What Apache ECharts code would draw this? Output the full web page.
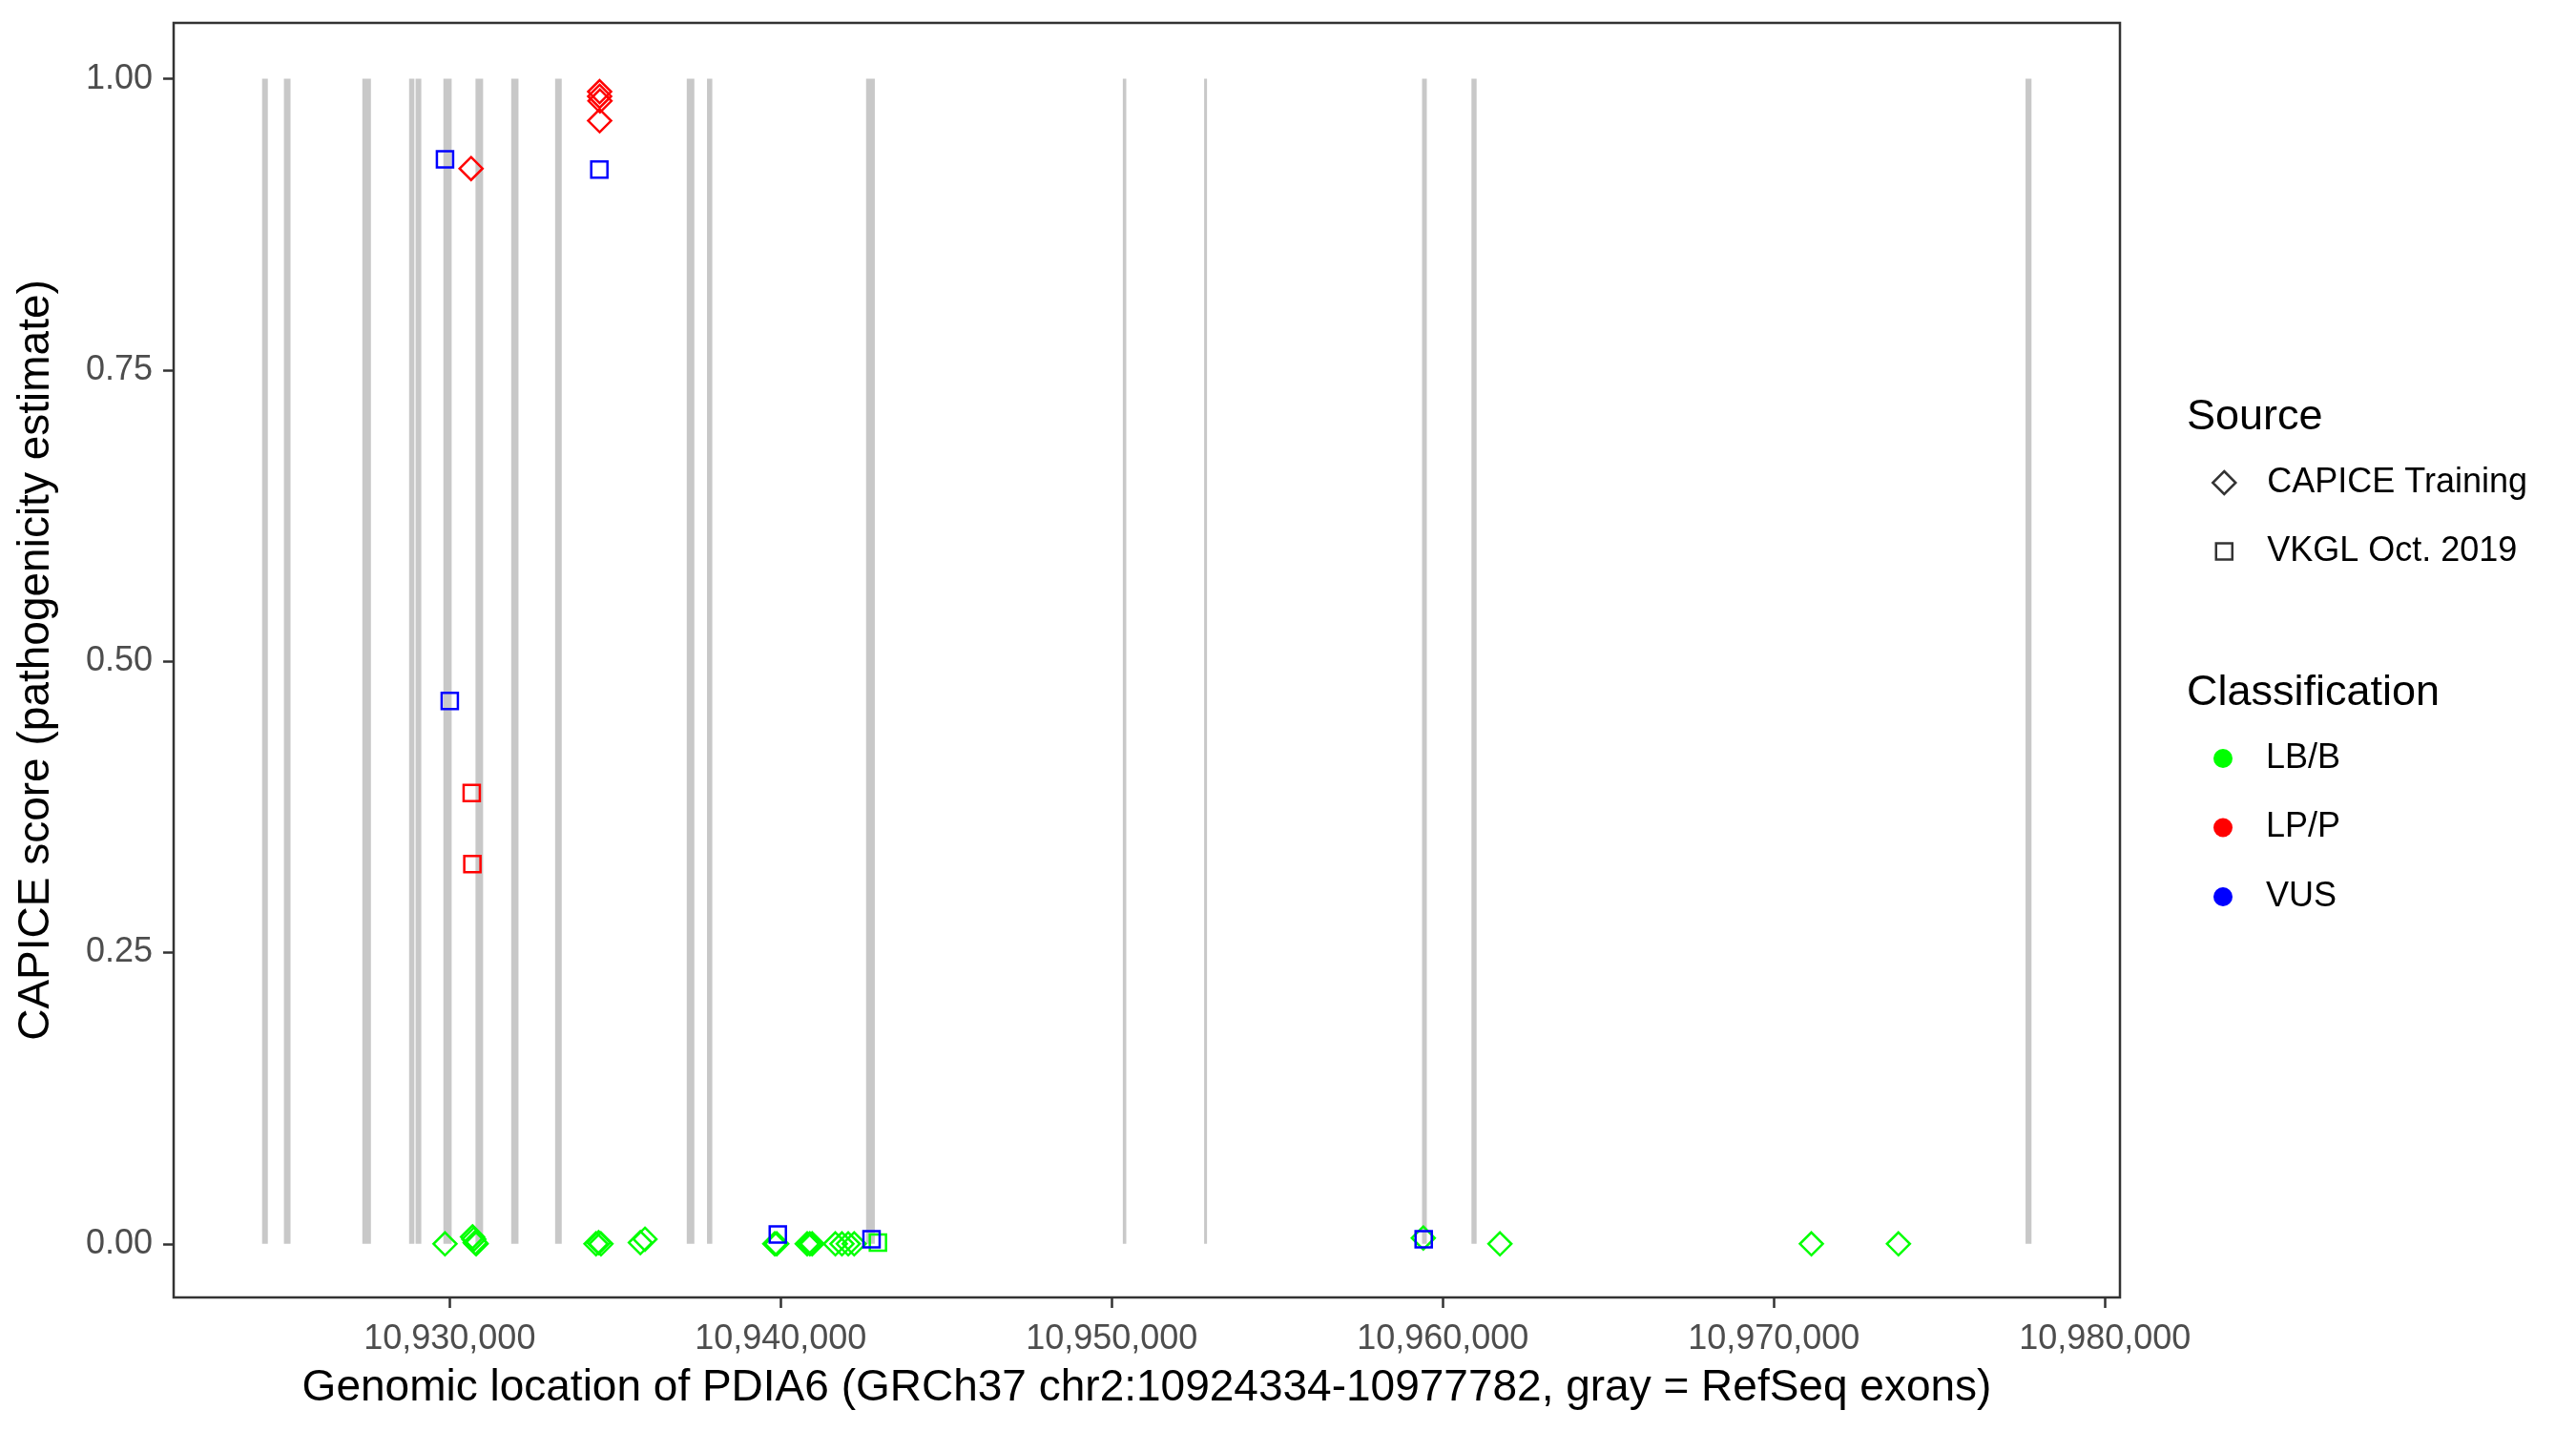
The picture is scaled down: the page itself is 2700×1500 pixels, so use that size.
<!DOCTYPE html>
<html>
<head>
<meta charset="utf-8">
<script src="https://cdn.jsdelivr.net/npm/echarts@6/dist/echarts.min.js"></script>
<style>
html, body { margin: 0; padding: 0; background: #fff; }
#main { width: 2700px; height: 1500px; }
</style>
</head>
<body>
<div id="main"></div>
<script>
// RefSeq exons of PDIA6 (start / end, bp)
var exonStart = [10924334, 10924993, 10927362, 10928774, 10928970, 10929810, 10930780, 10931859, 10933185,
    10937161, 10937773, 10942578, 10950334, 10952790, 10959373, 10960865, 10977602];
var exonEnd = [10924507, 10925193, 10927622, 10928934, 10929143, 10930060, 10931010, 10932079, 10933385,
    10937391, 10937933, 10942843, 10950438, 10952877, 10959517, 10961021, 10977782];

// variants: [position, CAPICE score]
var lbbTraining = [
    [10929859, 0.000],
    [10930690, 0.006], [10930730, 0.004], [10930770, 0.001], [10930800, 0.000],
    [10934420, 0.000], [10934500, 0.001], [10934570, 0.000],
    [10935760, 0.001], [10935900, 0.004],
    [10939820, 0.000], [10939880, 0.000],
    [10940800, 0.000], [10940880, 0.000], [10940950, 0.000],
    [10941650, 0.000], [10941850, 0.000], [10942040, 0.000], [10942220, 0.000],
    [10959410, 0.005], [10961725, 0.000], [10971133, 0.000], [10973763, 0.000]
];
var lbbVkgl = [[10942936, 0.001]];
var lppTraining = [
    [10934530, 0.989], [10934530, 0.985], [10934540, 0.981], [10934530, 0.964],
    [10930646, 0.923]
];
var lppVkgl = [[10930666, 0.387], [10930686, 0.326]];
var vusVkgl = [
    [10929859, 0.931], [10934521, 0.922], [10930003, 0.466],
    [10939912, 0.008], [10942743, 0.004], [10959422, 0.004]
];

var xTicks = [10930000, 10940000, 10950000, 10960000, 10970000, 10980000];
var yTicks = [0, 0.25, 0.5, 0.75, 1];

var sourceNames = ['CAPICE Training', 'VKGL Oct. 2019'];
var classNames = ['LB/B', 'LP/P', 'VUS'];
var classColors = ['#00ff00', '#ff0000', '#0000ff'];

var font = 'Liberation Sans, Arial, Helvetica, sans-serif';

var myChart = echarts.init(document.getElementById('main'));

function pts(name, data, symbol, size, color) {
    return {
        name: name,
        type: 'scatter',
        data: data,
        symbol: symbol,
        symbolSize: size,
        itemStyle: {color: 'rgba(0,0,0,0)', borderColor: color, borderWidth: 2.5, opacity: 1},
        emphasis: {disabled: true},
        z: 3
    };
}

var exonData = [];
for (var i = 0; i < exonStart.length; i++) {
    exonData.push([exonStart[i], exonEnd[i]]);
}

var legendTextPad = function (w) {
    return [0, 0, 0, 40 - w / 2];
};

var option = {
    animation: false,
    backgroundColor: '#fff',
    textStyle: {fontFamily: font},
    title: [
        {text: 'Source', left: 2292, top: 415, padding: 0,
            textStyle: {fontSize: 45, fontWeight: 'normal', color: '#000', fontFamily: font}},
        {text: 'Classification', left: 2292, top: 704, padding: 0,
            textStyle: {fontSize: 45, fontWeight: 'normal', color: '#000', fontFamily: font}}
    ],
    legend: [
        {
            data: [{name: sourceNames[0], icon: 'diamond',
                itemStyle: {color: 'rgba(0,0,0,0)', borderColor: '#000', borderWidth: 2.5}}],
            orient: 'vertical', left: 2330 - 12, top: 488, padding: 0,
            itemWidth: 24, itemHeight: 24, selectedMode: false,
            textStyle: {fontSize: 36, lineHeight: 36, color: '#000', fontFamily: font, padding: legendTextPad(24)}
        },
        {
            data: [{name: sourceNames[1], icon: 'rect',
                itemStyle: {color: 'rgba(0,0,0,0)', borderColor: '#000', borderWidth: 2.5}}],
            orient: 'vertical', left: 2330 - 8.5, top: 560, padding: 0,
            itemWidth: 17, itemHeight: 17, selectedMode: false,
            textStyle: {fontSize: 36, lineHeight: 36, color: '#000', fontFamily: font, padding: legendTextPad(17)}
        },
        {
            data: classNames.map(function (n, k) {
                return {name: n, icon: 'circle', itemStyle: {color: classColors[k], borderWidth: 0, opacity: 1}};
            }),
            orient: 'vertical', left: 2330 - 10, top: 777, padding: 0,
            itemWidth: 20, itemHeight: 20, itemGap: 36.5, selectedMode: false,
            textStyle: {fontSize: 36, lineHeight: 36, color: '#000', fontFamily: font, padding: legendTextPad(20)}
        }
    ],
    grid: {
        left: 182, right: 478, top: 24, bottom: 140,
        show: true, borderColor: '#333333', borderWidth: 2.5, backgroundColor: '#fff'
    },
    xAxis: {
        type: 'value',
        min: 10921662,
        max: 10980454,
        name: 'Genomic location of PDIA6 (GRCh37 chr2:10924334-10977782, gray = RefSeq exons)',
        nameLocation: 'middle',
        nameGap: 72,
        nameTextStyle: {fontSize: 46, color: '#000', fontFamily: font},
        axisLine: {show: false, onZero: false},
        splitLine: {show: false},
        axisTick: {show: true, length: 11, customValues: xTicks, lineStyle: {color: '#333333', width: 2.5}},
        axisLabel: {
            customValues: xTicks, margin: 26, fontSize: 36, color: '#4d4d4d', fontFamily: font,
            formatter: function (v) { return v.toLocaleString('en-US'); }
        }
    },
    yAxis: {
        type: 'value',
        min: -0.046,
        max: 1.048,
        name: 'CAPICE score (pathogenicity estimate)',
        nameLocation: 'middle',
        nameGap: 121,
        nameTextStyle: {fontSize: 46, color: '#000', fontFamily: font},
        axisLine: {show: false, onZero: false},
        splitLine: {show: false},
        axisTick: {show: true, length: 11, customValues: yTicks, lineStyle: {color: '#333333', width: 2.5}},
        axisLabel: {
            customValues: yTicks, margin: 22, fontSize: 36, color: '#4d4d4d', fontFamily: font,
            formatter: function (v) { return v.toFixed(2); }
        }
    },
    series: [
        {
            name: 'exons',
            type: 'custom',
            data: exonData,
            silent: true,
            z: 1,
            renderItem: function (params, api) {
                var p1 = api.coord([api.value(0), 1]);
                var p2 = api.coord([api.value(1), 0]);
                return {
                    type: 'rect',
                    shape: {x: p1[0], y: p1[1], width: Math.max(p2[0] - p1[0], 2), height: p2[1] - p1[1]},
                    style: {fill: '#c8c8c8'}
                };
            }
        },
        pts('lbb_training', lbbTraining, 'diamond', 24, classColors[0]),
        pts('lbb_vkgl', lbbVkgl, 'rect', 17, classColors[0]),
        pts('lpp_training', lppTraining, 'diamond', 24, classColors[1]),
        pts('lpp_vkgl', lppVkgl, 'rect', 17, classColors[1]),
        pts('vus_vkgl', vusVkgl, 'rect', 17, classColors[2]),
        // legend-only series
        {name: sourceNames[0], type: 'scatter', data: []},
        {name: sourceNames[1], type: 'scatter', data: []},
        {name: classNames[0], type: 'scatter', data: [], itemStyle: {color: classColors[0]}},
        {name: classNames[1], type: 'scatter', data: [], itemStyle: {color: classColors[1]}},
        {name: classNames[2], type: 'scatter', data: [], itemStyle: {color: classColors[2]}}
    ]
};

myChart.setOption(option);
</script>
</body>
</html>
